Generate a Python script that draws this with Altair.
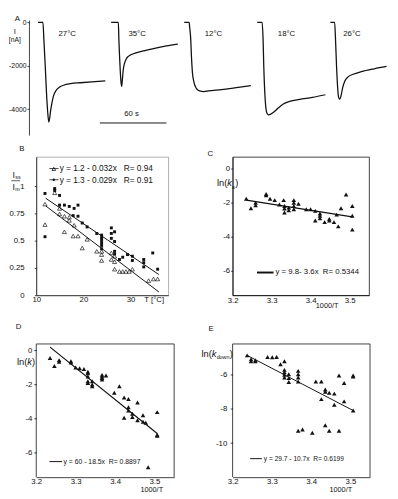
import altair as alt
import pandas as pd

FONT = "Liberation Sans"
INK = "#111111"
NB = "\u00a0"

# ---------------- Panel A: current traces ----------------
trace_names = ["27°C", "35°C", "12°C", "18°C", "26°C"]
trace_start_s = [1.6, 67.5, 133.4, 199.2, 265.1]
t_27 = [0, 4.4, 5.3, 6.5, 7.6, 8.8, 9.7, 10.5, 11.4, 12.7, 14.1, 16.2, 19.1, 23.5, 29.3, 38.1, 48.3, 60.6]
i_27 = [0, 0, -822, -2022, -3222, -4193, -4597, -4417, -4045, -3672, -3371, -3146, -2997, -2890, -2831, -2786, -2741, -2696]
t_35 = [0, 6.5, 7.0, 7.9, 8.8, 9.5, 10.2, 10.9, 12.0, 13.5, 15.8, 19.5, 26.4, 38.2, 49.9, 60.1]
i_35 = [0, 0, -822, -1900, -2700, -2950, -2600, -2200, -1900, -1700, -1560, -1460, -1350, -1210, -1090, -1003]
t_12 = [0, 4.4, 4.9, 5.9, 6.5, 7.4, 8.8, 10.9, 13.8, 17.6, 22.0, 33.7, 45.4, 60.0]
i_12 = [0, 0, -225, -822, -1573, -2322, -2771, -3042, -3159, -3191, -3159, -3101, -3024, -2922]
t_18 = [0, 4.4, 5.3, 5.9, 6.8, 7.7, 8.8, 10.3, 14.7, 19.1, 23.5, 29.3, 38.1, 49.8, 61.5]
i_18 = [0, 0, -822, -2022, -3222, -3896, -4193, -4269, -4148, -3942, -3762, -3641, -3551, -3461, -3339]
t_26 = [0, 3.9, 4.7, 5.6, 6.5, 7.4, 8.5, 9.7, 11.2, 13.2, 16.2, 20.6, 27.9, 39.6, 50.7]
i_26 = [0, 0, -822, -2022, -2921, -3447, -3551, -3371, -2997, -2696, -2503, -2395, -2278, -2143, -2036]
traces_t = [t_27, t_35, t_12, t_18, t_26]
traces_i = [i_27, i_35, i_12, i_18, i_26]
name_t = [27.9, 90.9, 159.7, 225.6, 284.6]
name_i = [-526, -526, -526, -526, -526]
bar_t = [57.3, 117.3]
bar_i = [-4640]
bar_text = "60 s"
bar_text_pos = [86.0, -4238]

# ---------------- Panel B: Iss/Im vs T ----------------
b_filled_T = [11.85, 11.85, 13.91, 13.91, 14.94, 14.94, 15.97, 17.0, 18.03, 18.85, 17.82, 18.85, 19.75, 20.78,
              22.83, 23.86, 23.86, 23.86, 23.86, 23.86, 23.86, 25.92, 25.92, 25.92, 26.61, 26.61, 26.61, 26.61,
              27.64, 28.33, 29.35, 30.38, 30.38, 32.79, 32.79, 32.79, 34.7, 35.74]
b_filled_r = [0.934, 0.537, 0.979, 0.961, 0.916, 0.827, 0.827, 0.815, 0.797, 0.827, 0.731, 0.725, 0.663, 0.627,
              0.567, 0.552, 0.528, 0.504, 0.481, 0.457, 0.427, 0.618, 0.567, 0.522, 0.582, 0.493, 0.403, 0.379,
              0.328, 0.349, 0.373, 0.358, 0.319, 0.328, 0.299, 0.26, 0.388, 0.239]
b_open_T = [11.85, 11.85, 13.91, 14.94, 14.94, 15.97, 15.97, 17.0, 17.0, 18.03, 17.82, 18.85, 20.78, 19.75,
            22.83, 23.86, 23.86, 23.86, 25.92, 25.92, 26.61, 26.61, 26.61, 27.64, 28.33, 29.01, 29.7, 30.38,
            33.82, 34.85, 35.74]
b_open_r = [0.836, 0.648, 0.94, 0.797, 0.746, 0.725, 0.582, 0.716, 0.687, 0.642, 0.543, 0.543, 0.513, 0.433,
            0.403, 0.403, 0.373, 0.319, 0.388, 0.328, 0.358, 0.307, 0.239, 0.218, 0.218, 0.218, 0.218, 0.239,
            0.134, 0.149, 0.149]
b_fit_T = [12, 36]
b_fit_filled = [0.89, 0.19]
b_fit_open = [0.82, 0.03]
b_leg1 = "y = 1.2 - 0.032x" + NB * 3 + "R= 0.94"
b_leg2 = "y = 1.3 - 0.029x" + NB * 3 + "R= 0.91"

# ---------------- Panel C: ln(ka) ----------------
c_x = [3.235, 3.247, 3.259, 3.259, 3.286, 3.286, 3.296, 3.308, 3.320, 3.331, 3.333, 3.333, 3.333, 3.344, 3.344,
       3.357, 3.357, 3.357, 3.357, 3.369, 3.389, 3.400, 3.412, 3.424, 3.424, 3.424, 3.412, 3.436, 3.448, 3.448,
       3.460, 3.467, 3.471, 3.478, 3.491, 3.507, 3.507, 3.507]
c_y = [-1.77, -2.32, -2.0, -2.15, -1.49, -1.56, -1.77, -1.85, -2.1, -1.85, -2.19, -2.34, -2.57, -2.29, -2.44,
       -1.85, -2.0, -2.19, -2.38, -2.06, -2.38, -2.38, -2.48, -2.63, -2.76, -2.91, -3.05, -3.14, -2.95, -3.05,
       -3.14, -2.70, -3.39, -2.32, -1.52, -2.19, -2.76, -3.58]
c_fit_x = [3.235, 3.507]
c_fit_y = [-1.85, -2.83]
c_leg = "y = 9.8- 3.6x" + NB * 2 + "R= 0.5344"

# ---------------- Panel D: ln(k) ----------------
d_x = [3.235, 3.246, 3.258, 3.258, 3.288, 3.288, 3.300, 3.310, 3.321, 3.331, 3.331, 3.331, 3.331, 3.331,
       3.342, 3.342, 3.342, 3.367, 3.367, 3.367, 3.367, 3.377, 3.398, 3.411, 3.423, 3.423, 3.434, 3.434, 3.434,
       3.444, 3.444, 3.457, 3.457, 3.471, 3.471, 3.478, 3.484, 3.507, 3.507, 3.507]
d_y = [-0.44, -0.92, -0.57, -0.67, -0.63, -0.71, -1.0, -1.05, -1.09, -1.25, -1.34, -1.53, -1.82, -1.92,
       -1.82, -2.01, -2.11, -1.44, -1.53, -1.63, -1.72, -1.48, -2.49, -2.11, -2.78, -3.97, -2.87, -3.35, -3.54,
       -3.74, -3.93, -3.07, -4.12, -3.83, -4.21, -4.27, -6.90, -3.64, -4.98, -5.04]
d_fit_x = [3.235, 3.507]
d_fit_y = [0.2, -4.9]
d_leg = "y = 60 - 18.5x" + NB * 2 + "R= 0.8897"

# ---------------- Panel E: ln(k_down) ----------------
e_x = [3.237, 3.247, 3.247, 3.258, 3.258, 3.289, 3.301, 3.312, 3.322, 3.332, 3.332, 3.332, 3.332, 3.332,
       3.343, 3.343, 3.343, 3.367, 3.367, 3.367, 3.367, 3.412, 3.426, 3.426, 3.436, 3.436, 3.446, 3.459, 3.459,
       3.471, 3.484, 3.484, 3.507, 3.507, 3.507, 3.367, 3.378, 3.403, 3.436, 3.446, 3.471]
e_y = [-4.91, -5.13, -5.25, -5.19, -5.25, -5.0, -5.02, -5.0, -5.43, -5.25, -5.75, -5.89, -6.04, -6.19,
       -6.0, -6.23, -6.45, -5.81, -6.0, -6.19, -6.42, -6.42, -6.42, -7.45, -6.89, -7.02, -7.08, -7.13, -7.77,
       -6.08, -6.51, -7.58, -6.08, -6.13, -8.11, -9.28, -9.21, -9.40, -8.96, -9.28, -9.28]
e_fit_x = [3.237, 3.507]
e_fit_y = [-4.91, -8.11]
e_leg = "y = 29.7 - 10.7x" + NB * 2 + "R= 0.6199"


# ---------------- helpers ----------------
def axis(values, expr, pad, size=8, offset=0, tick=0, domain=True):
    kw = dict(values=values, labelExpr=expr, labelPadding=pad, labelFontSize=size, labelFont=FONT,
              labelColor=INK, domain=domain, domainColor=INK, domainWidth=0.8, grid=False, title=None,
              labelFlush=False, labelOverlap=False, offset=offset)
    if tick > 0:
        kw.update(ticks=True, tickSize=tick, tickColor=INK, tickWidth=0.8)
    else:
        kw.update(ticks=False)
    return alt.Axis(**kw)


def txt(s, x, y, size=8, align="left", baseline="middle", italic=False):
    kw = dict(align=align, baseline=baseline, fontSize=size, font=FONT, color=INK)
    if italic:
        kw["fontStyle"] = "italic"
    return alt.Chart(pd.DataFrame({"s": [s]})).mark_text(**kw).encode(
        x=alt.value(x), y=alt.value(y), text="s:N")


def seg(x1, x2, y, w=1.0):
    return alt.Chart(pd.DataFrame({"s": [0]})).mark_rule(color=INK, strokeWidth=w).encode(
        x=alt.value(x1), x2=alt.value(x2), y=alt.value(y))


def vseg(x, y1, y2, w=0.8):
    return alt.Chart(pd.DataFrame({"s": [0]})).mark_rule(color=INK, strokeWidth=w).encode(
        x=alt.value(x), y=alt.value(y1), y2=alt.value(y2))


def glyph(x, y, shape, filled, size):
    return alt.Chart(pd.DataFrame({"s": [0]})).mark_point(
        shape=shape, filled=filled, size=size, color=INK, opacity=1, strokeWidth=0.8).encode(
        x=alt.value(x), y=alt.value(y))


def scatter(df, xe, ye):
    return alt.Chart(df).mark_point(shape="triangle-up", filled=True, size=22, color=INK, opacity=1).encode(x=xe, y=ye)


num = "'' + datum.value"
one = "format(datum.value, '.1f')"
NOFRAME = alt.ViewBackground(stroke="transparent")
PX_PER_S = 1.1383

# ---------------- A ----------------
rows = []
for name, start, ts, cs in zip(trace_names, trace_start_s, traces_t, traces_i):
    for t, c in zip(ts, cs):
        rows.append({"trace": name, "t": start + t, "I": c})
dfA = pd.DataFrame(rows)
WA = 141.5
xA = alt.X("t:Q", scale=alt.Scale(domain=[0, WA / PX_PER_S], nice=False, zero=False), axis=None)
yA = alt.Y("I:Q", scale=alt.Scale(domain=[-5200, 100], nice=False, zero=False),
           axis=axis([0, -2000, -4000], num, 1, size=7, offset=7.5, tick=2))
A = alt.layer(
    alt.Chart(pd.DataFrame({"s": [0]})).mark_rule(opacity=0, strokeWidth=0.01).encode(
        x=alt.value(-28.5), x2=alt.value(-28.3), y=alt.value(-4.7)),
    alt.Chart(dfA).mark_line(color=INK, strokeWidth=1.3, interpolate="monotone").encode(
        x=xA, y=yA, detail="trace:N"),
    alt.Chart(pd.DataFrame({"t": name_t, "I": name_i, "name": trace_names})).mark_text(
        fontSize=8, font=FONT, color=INK).encode(x=xA, y=yA, text="name:N"),
    alt.Chart(pd.DataFrame({"t": [bar_t[0]], "t2": [bar_t[1]], "I": bar_i})).mark_rule(
        color=INK, strokeWidth=1).encode(x=xA, x2="t2:Q", y=yA),
    alt.Chart(pd.DataFrame({"t": [bar_text_pos[0]], "I": [bar_text_pos[1]], "s": [bar_text]})).mark_text(
        fontSize=8, font=FONT, color=INK).encode(x=xA, y=yA, text="s:N"),
    txt("A", -19.5, -4.7, size=8, align="center", baseline="top"),
    txt("I", -22, 12.3, size=8, align="center"),
    txt("[nA]", -22, 20.3, size=7, align="center"),
).properties(width=WA, height=118, view=NOFRAME)

filler = alt.Chart(pd.DataFrame({"s": [0]})).mark_point(opacity=0).encode(
    x=alt.value(0), y=alt.value(0)).properties(width=140, height=1, view=NOFRAME)

# ---------------- B ----------------
xB = alt.X("T:Q", scale=alt.Scale(domain=[10, 38], nice=False, zero=False),
           axis=axis([10, 20, 30], num, 0))
yB = alt.Y("r:Q", scale=alt.Scale(domain=[0, 1.27], nice=False, zero=False),
           axis=axis([0, 0.25, 0.5, 0.75, 1], num, 10.5, tick=2))
dfBfit = pd.DataFrame({"T": b_fit_T + b_fit_T, "r": b_fit_filled + b_fit_open,
                       "kind": ["filled"] * 2 + ["open"] * 2})
B = alt.layer(
    alt.Chart(dfBfit).mark_line(color=INK, strokeWidth=1).encode(x=xB, y=yB, detail="kind:N"),
    alt.Chart(pd.DataFrame({"T": b_open_T, "r": b_open_r})).mark_point(
        shape="triangle-up", filled=False, size=18, strokeWidth=0.7, color=INK, opacity=1).encode(x=xB, y=yB),
    alt.Chart(pd.DataFrame({"T": b_filled_T, "r": b_filled_r})).mark_square(
        size=9, color=INK, opacity=1).encode(x=xB, y=yB),
    txt("B", -14.8, -8, size=8, align="center"),
    txt("I", -24.5, 18.7, size=9),
    txt("ss", -21.5, 21.2, size=5.5),
    seg(-25.5, -16.5, 24.5, 0.7),
    txt("I", -24.5, 30.5, size=9),
    txt("m", -21.5, 33, size=5.5),
    txt("T [°C]", 121, 142.5, size=8, align="center", baseline="top"),
    seg(13.5, 22.8, 12, 0.8),
    glyph(18, 12.3, "triangle-up", False, 14),
    txt(b_leg1, 24, 12, size=8.5),
    seg(13.5, 22.8, 23.5, 0.8),
    glyph(18, 23.5, "circle", True, 6),
    txt(b_leg2, 24, 23.5, size=8.5),
).properties(width=135.5, height=142, view=alt.ViewBackground(stroke="#9a9a9a", strokeWidth=0.8))

# ---------------- C ----------------
xC = alt.X("xc:Q", scale=alt.Scale(domain=[3.2, 3.55], nice=False, zero=False),
           axis=axis([3.2, 3.3, 3.4, 3.5], one, 1))
yC = alt.Y("yc:Q", scale=alt.Scale(domain=[-7.43, 0.69], nice=False, zero=False),
           axis=axis([0, -2, -4, -6], num, 1, tick=2))
C = alt.layer(
    alt.Chart(pd.DataFrame({"xc": c_fit_x, "yc": c_fit_y})).mark_line(color=INK, strokeWidth=1.2).encode(x=xC, y=yC),
    scatter(pd.DataFrame({"xc": c_x, "yc": c_y}), xC, yC),
    txt("C", -23, -3, size=8, align="center"),
    txt("ln(", -16, 27, size=9.5),
    txt("k", -5.4, 27, size=9.5, italic=True),
    txt("a", -0.8, 30.5, size=5.5),
    txt(")", 2.6, 27, size=9.5),
    txt("1000/T", 97, 153.5, size=7.5, align="center"),
    seg(25, 42, 118.7, 2),
    txt(c_leg, 44, 118.7, size=8),
).properties(width=140, height=142, view=alt.ViewBackground(stroke=INK, strokeWidth=0.8))

# ---------------- D and E (plot area starts 27.7 px above the drawn frame) ----------------
F = 27.7
HD = 164.4

xD = alt.X("xd:Q", scale=alt.Scale(domain=[3.2, 3.55], nice=False, zero=False),
           axis=axis([3.2, 3.3, 3.4, 3.5], one, 0))
yD = alt.Y("yd:Q", scale=alt.Scale(domain=[-7.48, 1.979], nice=False, zero=False),
           axis=axis([0, -2, -4, -6], num, 2, tick=2.5, domain=False))
WD = 141.5
D = alt.layer(
    seg(0, WD, F, 0.8), vseg(0, F, HD), vseg(WD, F, HD),
    alt.Chart(pd.DataFrame({"xd": d_fit_x, "yd": d_fit_y})).mark_line(color=INK, strokeWidth=1.2).encode(x=xD, y=yD),
    scatter(pd.DataFrame({"xd": d_x, "yd": d_y}), xD, yD),
    txt("D", -18.2, -17 + F, size=8, align="center"),
    txt("ln(", -19.8, 18.3 + F, size=9.5),
    txt("k", -9.2, 18.3 + F, size=9.5, italic=True),
    txt(")", -4.3, 18.3 + F, size=9.5),
    txt("1000/T", 118.5, 150 + F, size=7.5, align="center"),
    seg(13.5, 26.5, 120.7 + F, 1),
    txt(d_leg, 28, 120.7 + F, size=7),
).properties(width=WD, height=HD, view=NOFRAME)

xE = alt.X("xe:Q", scale=alt.Scale(domain=[3.2, 3.55], nice=False, zero=False),
           axis=axis([3.2, 3.3, 3.4, 3.5], one, 0))
yE = alt.Y("ye:Q", scale=alt.Scale(domain=[-11.98, -2.679], nice=False, zero=False),
           axis=axis([-6, -8, -10], num, 3.5, tick=2.5, domain=False))
WE = 141
E = alt.layer(
    seg(0, WE, F, 0.8), vseg(0, F, HD), vseg(WE, F, HD),
    alt.Chart(pd.DataFrame({"xe": e_fit_x, "ye": e_fit_y})).mark_line(color=INK, strokeWidth=1).encode(x=xE, y=yE),
    scatter(pd.DataFrame({"xe": e_x, "ye": e_y}), xE, yE),
    txt("E", -22, -15 + F, size=8, align="center"),
    txt("ln(", -32, 10 + F, size=9.5),
    txt("k", -21.4, 10 + F, size=9.5, italic=True),
    txt("down", -16.4, 13.5 + F, size=5.5),
    txt(")", -3, 10 + F, size=9.5),
    txt("1000/T", 111, 150 + F, size=7.5, align="center"),
    seg(18, 30, 117.7 + F, 1),
    txt(e_leg, 32, 117.7 + F, size=6.8),
).properties(width=WE, height=HD, view=NOFRAME)

chart = alt.concat(
    A, filler, B, C, D, E,
    columns=2, spacing={"row": 22.3, "column": 59.5}, bounds="flush", align="each",
).properties(padding=0).configure(font=FONT)

chart.save("out.html", embed_options={"renderer": "svg", "actions": False})
